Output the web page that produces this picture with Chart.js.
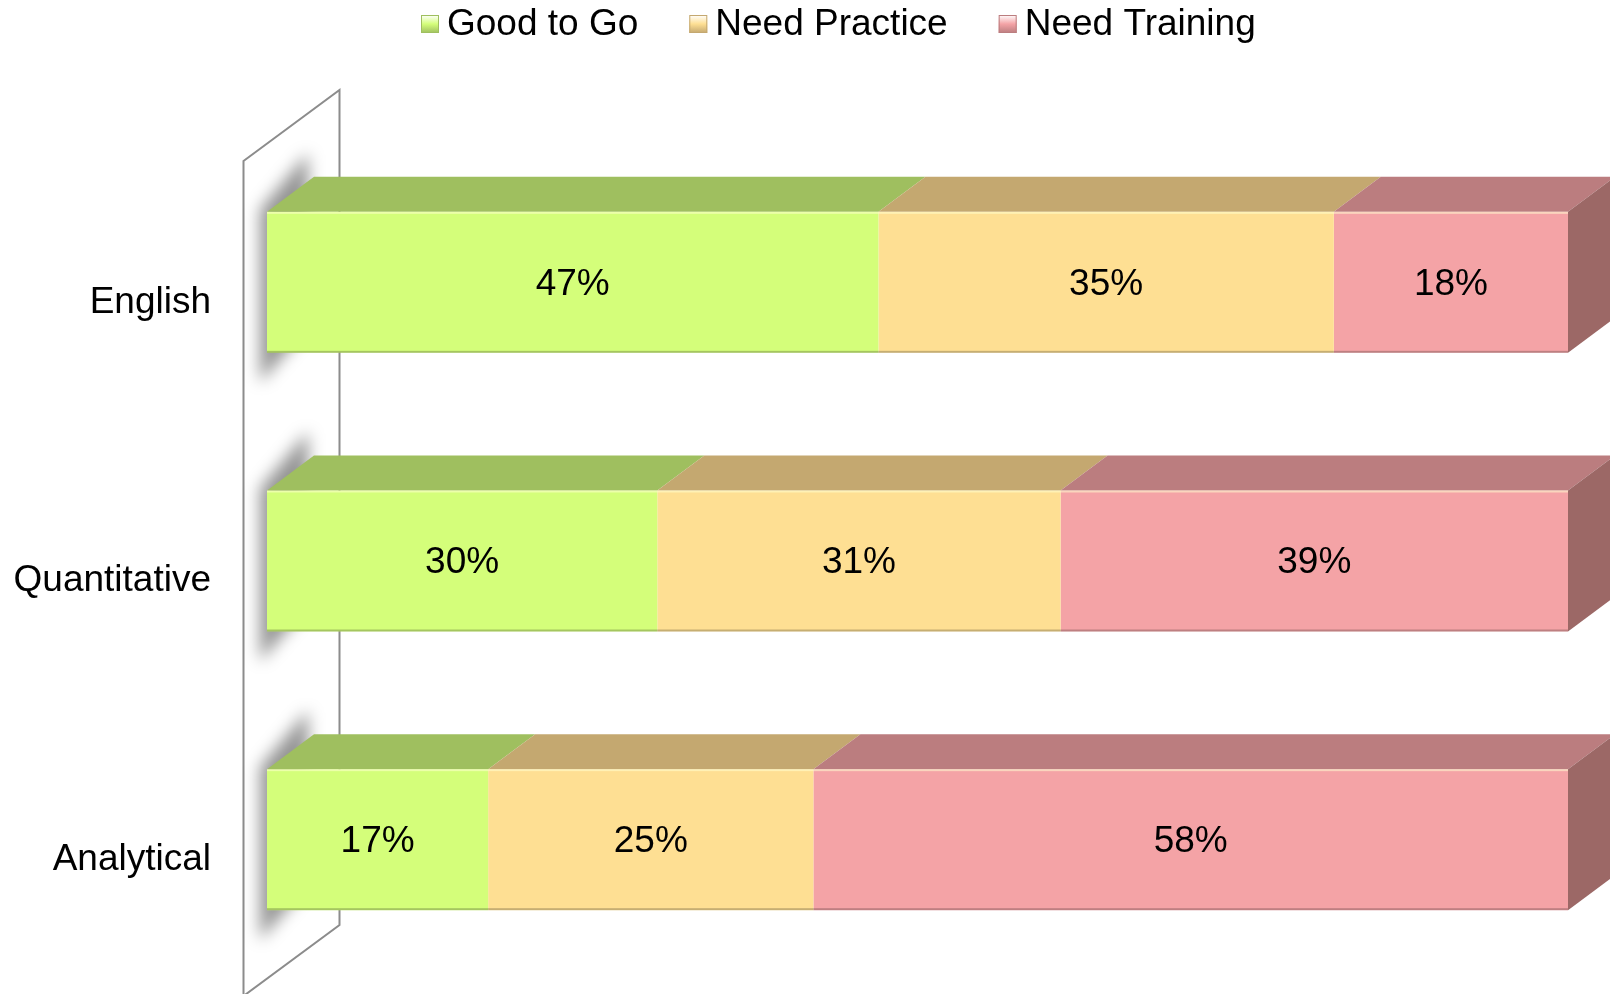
<!DOCTYPE html>
<html>
<head>
<meta charset="utf-8">
<script src="https://cdn.jsdelivr.net/npm/chart.js@4"></script>
<style>
  body { margin: 0; background: #fff; }
  #wrap { width: 1610px; height: 994px; position: relative; }
</style>
</head>
<body>
<div id="wrap"><canvas id="myChart"></canvas></div>
<script>
// data
var categories = ['English', 'Quantitative', 'Analytical'];
var goodToGo = [47, 30, 17];
var needPractice = [35, 31, 25];
var needTraining = [18, 39, 58];
var seriesNames = ['Good to Go', 'Need Practice', 'Need Training'];

// colours: front, top, side
var frontColors = ['#d4fe7a', '#fedf93', '#f4a3a6'];
var topColors = ['#9fbf5f', '#c4a870', '#bb7d7f'];
var sideColor = '#9c6866';

var FONT = '"Liberation Sans", Arial, sans-serif';
var dx = 47, dy = -35;   // bar depth

// wall + shadows behind bars
var wallPlugin = {
  id: 'wall',
  beforeDatasetsDraw: function (chart) {
    var ctx = chart.ctx;
    var a = chart.chartArea;
    var fx = a.left - 23.5, bx = fx + 96;
    ctx.save();
    ctx.beginPath();
    ctx.moveTo(fx, a.top + 18);
    ctx.lineTo(bx, a.top - 53);
    ctx.lineTo(bx, a.bottom - 54);
    ctx.lineTo(fx, a.bottom + 17);
    ctx.closePath();
    ctx.fillStyle = '#fff';
    ctx.fill();
    ctx.strokeStyle = '#8c8c8c';
    ctx.lineWidth = 2;
    ctx.stroke();

    // soft shadows of bars on the wall
    var meta = chart.getDatasetMeta(0);
    ctx.filter = 'blur(8px)';
    ctx.fillStyle = 'rgba(0,0,0,0.42)';
    meta.data.forEach(function (bar) {
      var p = bar.getProps(['x', 'base', 'y', 'height'], true);
      var L = Math.min(p.x, p.base);
      var top = p.y - p.height / 2, bottom = p.y + p.height / 2;
      ctx.beginPath();
      ctx.moveTo(L - 7, top - 2);
      ctx.lineTo(L + dx - 6, top + dy - 24);
      ctx.lineTo(L + dx - 6, bottom + dy + 10);
      ctx.lineTo(L - 7, bottom + 30);
      ctx.closePath();
      ctx.fill();
    });
    ctx.restore();
  }
};

// 3d faces, labels, legend
var facesPlugin = {
  id: 'faces',
  afterDatasetsDraw: function (chart) {
    var ctx = chart.ctx;
    ctx.save();
    var n = chart.data.datasets.length;
    for (var i = 0; i < n; i++) {
      var meta = chart.getDatasetMeta(i);
      meta.data.forEach(function (bar) {
        var p = bar.getProps(['x', 'base', 'y', 'height'], true);
        var L = Math.min(p.x, p.base), R = Math.max(p.x, p.base);
        var top = p.y - p.height / 2, bottom = p.y + p.height / 2;
        // top face
        ctx.beginPath();
        ctx.moveTo(L, top);
        ctx.lineTo(R, top);
        ctx.lineTo(R + dx, top + dy);
        ctx.lineTo(L + dx, top + dy);
        ctx.closePath();
        ctx.fillStyle = topColors[i];
        ctx.fill();
        // highlight / edge lines on front
        ctx.fillStyle = 'rgba(255,255,210,0.55)';
        ctx.fillRect(L, top, R - L, 2);
        ctx.fillStyle = 'rgba(0,0,0,0.22)';
        ctx.fillRect(L, bottom - 2, R - L, 2);
        if (i === n - 1) {
          ctx.beginPath();
          ctx.moveTo(R, top);
          ctx.lineTo(R + dx, top + dy);
          ctx.lineTo(R + dx, bottom + dy);
          ctx.lineTo(R, bottom);
          ctx.closePath();
          ctx.fillStyle = sideColor;
          ctx.fill();
        }
      });
    }
    // value labels
    ctx.fillStyle = '#000';
    ctx.font = '37px ' + FONT;
    ctx.textAlign = 'center';
    ctx.textBaseline = 'middle';
    for (var j = 0; j < n; j++) {
      var m = chart.getDatasetMeta(j);
      m.data.forEach(function (bar, k) {
        var p = bar.getProps(['x', 'base', 'y'], true);
        ctx.fillText(chart.data.datasets[j].data[k] + '%', (p.x + p.base) / 2, p.y + 2);
      });
    }
    ctx.restore();
  },
  afterDraw: function (chart) {
    var ctx = chart.ctx;
    ctx.save();
    ctx.font = '37px ' + FONT;
    ctx.textBaseline = 'middle';
    ctx.textAlign = 'left';
    var x = 421, yc = 24;
    chart.data.datasets.forEach(function (ds, i) {
      var g = ctx.createLinearGradient(0, yc - 9, 0, yc + 9);
      g.addColorStop(0, '#fff');
      g.addColorStop(0.5, frontColors[i]);
      g.addColorStop(1, topColors[i]);
      ctx.fillStyle = g;
      ctx.fillRect(x, yc - 9, 18, 18);
      ctx.strokeStyle = topColors[i];
      ctx.lineWidth = 1;
      ctx.strokeRect(x + 0.5, yc - 8.5, 17, 17);
      ctx.fillStyle = '#000';
      ctx.fillText(ds.label, x + 26, yc + 1);
      x += 26 + ctx.measureText(ds.label).width + 51;
    });
    ctx.restore();
  }
};

var ctx = document.getElementById('myChart');
var myChart = new Chart(ctx, {
  type: 'bar',
  data: {
    labels: categories,
    datasets: [
      { label: seriesNames[0], data: goodToGo, backgroundColor: frontColors[0] },
      { label: seriesNames[1], data: needPractice, backgroundColor: frontColors[1] },
      { label: seriesNames[2], data: needTraining, backgroundColor: frontColors[2] }
    ]
  },
  options: {
    indexAxis: 'y',
    responsive: true,
    maintainAspectRatio: false,
    animation: false,
    layout: { padding: { top: 143, right: 42, bottom: 15, left: 0 } },
    datasets: { bar: { categoryPercentage: 1, barPercentage: 0.506, borderWidth: 0 } },
    plugins: { legend: { display: false }, tooltip: { enabled: false } },
    scales: {
      x: { stacked: true, min: 0, max: 100, display: false },
      y: {
        stacked: true,
        grid: { display: false, drawTicks: false },
        border: { display: false },
        ticks: { color: '#000', padding: 56, labelOffset: 20, font: { family: FONT, size: 37 } },
        afterFit: function (s) {
          s.width = 267;
          s.paddingTop = 0;
          s.paddingBottom = 0;
        }
      }
    }
  },
  plugins: [wallPlugin, facesPlugin]
});
</script>
</body>
</html>
